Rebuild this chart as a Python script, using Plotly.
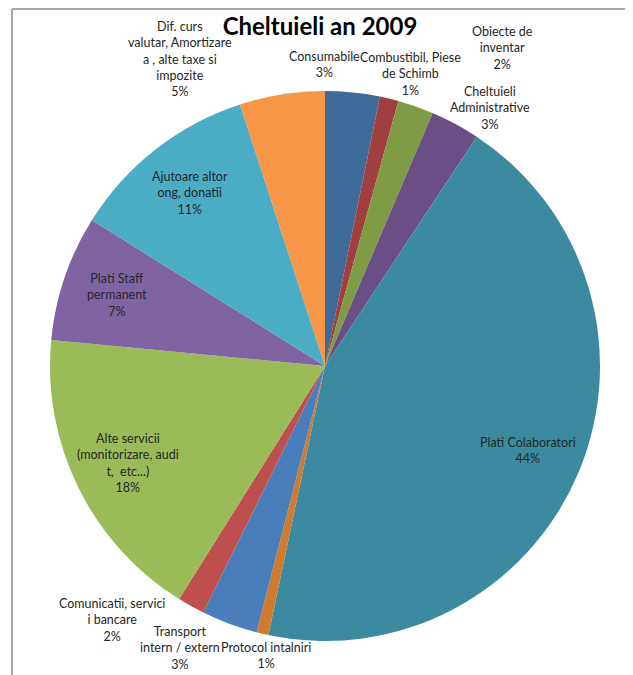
import math
import plotly.graph_objects as go

title_text = "Cheltuieli an 2009"

categories = [
    "Consumabile",
    "Combustibil, Piese de Schimb",
    "Obiecte de inventar",
    "Cheltuieli Administrative",
    "Plati Colaboratori",
    "Protocol intalniri",
    "Transport intern / extern",
    "Comunicatii, servicii bancare",
    "Alte servicii (monitorizare, audit, etc...)",
    "Plati Staff permanent",
    "Ajutoare altor ong, donatii",
    "Dif. curs valutar, Amortizare a , alte taxe si impozite",
]

values = [3.2, 1.1, 2.1, 2.9, 44.0, 0.7, 3.3, 1.6, 17.6, 7.4, 11.1, 5.0]

label_lines = [
    "Consumabile",
    "Combustibil, Piese<br>de Schimb",
    "Obiecte de<br>inventar",
    "Cheltuieli<br>Administrative",
    "Plati Colaboratori",
    "Protocol intalniri",
    "Transport<br>intern / extern",
    "Comunicatii, servici<br>i bancare",
    "Alte servicii<br>(monitorizare, audi<br>t,  etc...)",
    "Plati Staff<br>permanent",
    "Ajutoare altor<br>ong, donatii",
    "Dif. curs<br>valutar, Amortizare<br>a , alte taxe si<br>impozite",
]

colors = [
    "#3D6A99", "#A03F3D", "#7F9C44", "#6A4F86", "#3C8AA0", "#D07A2F",
    "#4A7EBB", "#C0504D", "#9BBB59", "#8064A2", "#4BACC6", "#F79646",
]

# label placement style: inside labels at a fraction of the radius,
# outside labels nudged from the slice edge (pixels, x right / y up)
inside_k = 0.8
label_shift = {
    0: (-28, 28), 1: (21, 25), 2: (87, 58), 3: (35, 16),
    5: (4, -22), 6: (-49, -24), 7: (-79, -14), 11: (-102, 35),
}

W, H = 633, 675
OFF = 8  # page body offset of the figure in the browser window
CX, CY, R = 325 - OFF, 366 - OFF, 275  # pie centre / radius in figure pixels

total = sum(values)

fig = go.Figure(
    go.Pie(
        labels=categories,
        values=values,
        textinfo="none",
        sort=False,
        direction="clockwise",
        rotation=0,
        marker=dict(colors=colors, line=dict(width=0)),
        showlegend=False,
        hoverinfo="label+percent",
        domain=dict(x=[(CX - R) / W, (CX + R) / W], y=[1 - (CY + R) / H, 1 - (CY - R) / H]),
    )
)

annotations = []
cum = 0.0
for i, (v, txt) in enumerate(zip(values, label_lines)):
    mid = (cum + v / 2) / total * 2 * math.pi
    cum += v
    pct = round(v / total * 100)
    k = 1.0 if i in label_shift else inside_k
    dx, dy = label_shift.get(i, (0, 0))
    px = CX + R * k * math.sin(mid)
    py = CY - R * k * math.cos(mid)
    annotations.append(dict(
        x=px / W, y=1 - py / H, xref="paper", yref="paper",
        text=f"{txt}<br>{pct}%", showarrow=False,
        xanchor="center", yanchor="middle", align="center",
        xshift=dx, yshift=dy,
        font=dict(family="Lato, Open Sans, sans-serif", size=12.5, color="#262626"),
    ))

fig.update_layout(
    width=W,
    height=H,
    margin=dict(l=0, r=0, t=0, b=0, autoexpand=False),
    paper_bgcolor="white",
    plot_bgcolor="white",
    title=dict(
        text="<b>" + title_text + "</b>",
        x=(320 - OFF) / W,
        xanchor="center",
        y=1 - (27 - OFF) / H,
        yanchor="middle",
        font=dict(family="Lato, Open Sans, sans-serif", size=24, color="black"),
    ),
    annotations=annotations,
    shapes=[
        dict(type="line", xref="paper", yref="paper",
             x0=(12 - OFF) / W, x1=1.0, y0=1 - 1 / H, y1=1 - 1 / H,
             line=dict(color="#A6A6A6", width=2)),
        dict(type="line", xref="paper", yref="paper",
             x0=(12 - OFF) / W, x1=(12 - OFF) / W, y0=0, y1=1 - 1 / H,
             line=dict(color="#A6A6A6", width=2)),
    ],
)

fig.write_html("out.html")
